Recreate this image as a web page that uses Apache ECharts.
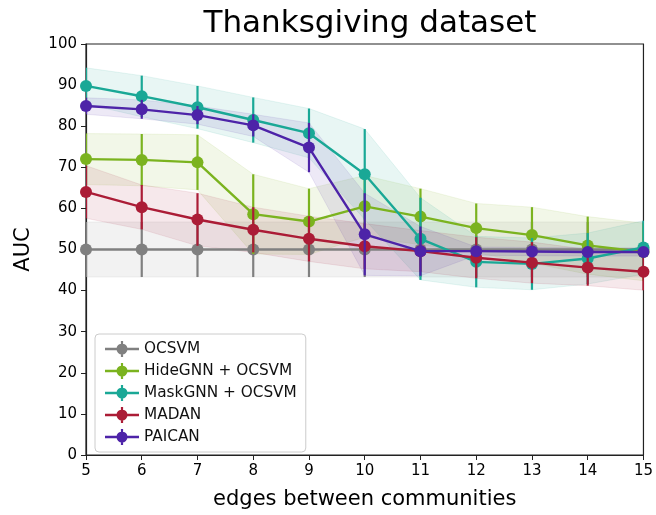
<!DOCTYPE html>
<html>
<head>
<meta charset="utf-8">
<script src="https://cdn.jsdelivr.net/npm/echarts@6/dist/echarts.min.js"></script>
<style>
html,body{margin:0;padding:0;background:#fff;}
#chart{width:656px;height:515px;}
</style>
</head>
<body>
<div id="chart"></div>
<script>
// ---- data ----
const xValues = [5, 6, 7, 8, 9, 10, 11, 12, 13, 14, 15];
const yTicks = [0, 10, 20, 30, 40, 50, 60, 70, 80, 90, 100];
const seriesNames = ['OCSVM', 'HideGNN + OCSVM', 'MaskGNN + OCSVM', 'MADAN', 'PAICAN'];

const ocsvmMean   = [50, 50, 50, 50, 50, 50, 50, 50, 50, 50, 50];
const ocsvmStd    = [6.7, 6.7, 6.7, 6.7, 6.7, 6.7, 6.7, 6.7, 6.7, 6.7, 6.7];

const hideMean    = [72.0, 71.8, 71.2, 58.6, 56.8, 60.5, 58.0, 55.2, 53.5, 51.0, 49.4];
const hideStd     = [6.2, 6.3, 6.7, 9.7, 8.0, 7.5, 6.8, 6.0, 6.8, 7.0, 7.0];

const maskMean    = [89.8, 87.3, 84.6, 81.5, 78.3, 68.3, 52.6, 47.0, 46.5, 47.8, 50.5];
const maskStd     = [4.4, 5.0, 5.2, 5.5, 6.0, 11.0, 10.0, 6.2, 6.3, 6.2, 6.5];

const madanMean   = [64.0, 60.3, 57.3, 54.8, 52.6, 50.8, 49.6, 48.0, 46.8, 45.6, 44.6];
const madanStd    = [6.4, 5.4, 6.4, 5.5, 5.5, 5.5, 5.0, 5.0, 5.0, 4.4, 4.5];

const paicanMean  = [84.9, 84.1, 82.7, 80.2, 74.8, 53.7, 49.6, 49.6, 49.5, 49.4, 49.4];
const paicanStd   = [2.0, 2.3, 2.2, 2.7, 6.0, 10.0, 6.0, 1.0, 1.0, 1.0, 1.0];

const colors = ['#808080', '#7bb31f', '#1aa896', '#ab1c36', '#4d23a8'];

const means = [ocsvmMean, hideMean, maskMean, madanMean, paicanMean];
const stds  = [ocsvmStd, hideStd, maskStd, madanStd, paicanStd];

// legend icon: line + marker + vertical error bar
const legendIcon = 'path://M0,6.8 L34,6.8 L34,9.2 L0,9.2 Z ' +
  'M15.9,0 L18.1,0 L18.1,16 L15.9,16 Z ' +
  'M22.5,8 A5.5,5.5 0 1,1 11.5,8 A5.5,5.5 0 1,1 22.5,8 Z';

// ---- build series ----
const series = [];
means.forEach((m, si) => {
  const s = stds[si];
  series.push({
    type: 'custom',
    name: seriesNames[si] + ' band',
    silent: true,
    z: 1,
    clip: true,
    data: [[0]],
    renderItem: function (params, api) {
      const pts = [];
      for (let i = 0; i < xValues.length; i++) pts.push(api.coord([xValues[i], m[i] + s[i]]));
      for (let i = xValues.length - 1; i >= 0; i--) pts.push(api.coord([xValues[i], m[i] - s[i]]));
      return {
        type: 'polygon',
        shape: { points: pts },
        style: { fill: colors[si], opacity: 0.1, stroke: colors[si], lineWidth: 1 }
      };
    }
  });
});
means.forEach((m, si) => {
  const s = stds[si];
  series.push({
    type: 'custom',
    name: seriesNames[si] + ' err',
    silent: true,
    z: 3 + si * 2,
    clip: true,
    data: xValues.map((x, i) => [x, m[i] - s[i], m[i] + s[i]]),
    renderItem: function (params, api) {
      const p1 = api.coord([api.value(0), api.value(1)]);
      const p2 = api.coord([api.value(0), api.value(2)]);
      return {
        type: 'line',
        shape: { x1: p1[0], y1: p1[1], x2: p2[0], y2: p2[1] },
        style: { stroke: colors[si], lineWidth: 2.2 }
      };
    }
  });
  series.push({
    type: 'line',
    name: seriesNames[si],
    z: 4 + si * 2,
    data: xValues.map((x, i) => [x, m[i]]),
    symbol: 'circle',
    symbolSize: 12,
    showAllSymbol: true,
    lineStyle: { color: colors[si], width: 2.4 },
    itemStyle: { color: colors[si] },
    emphasis: { disabled: true },
    animation: false
  });
});

const chart = echarts.init(document.getElementById('chart'), null, { renderer: 'canvas' });
const font = 'DejaVu Sans';
chart.setOption({
  animation: false,
  backgroundColor: '#fff',
  color: colors,
  title: {
    text: 'Thanksgiving dataset',
    left: 365,
    textAlign: 'center',
    top: 3,
    textStyle: { fontFamily: font, fontSize: 31, fontWeight: 'normal', color: '#000' }
  },
  grid: { left: 86, right: 11, top: 44, bottom: 55, show: true, borderColor: '#222', borderWidth: 1.2, backgroundColor: 'transparent' },
  legend: {
    data: seriesNames.map(n => ({ name: n, icon: legendIcon })),
    orient: 'vertical',
    left: 95,
    top: 334,
    padding: [7, 9, 7, 10],
    itemGap: 6,
    itemWidth: 34,
    itemHeight: 16,
    backgroundColor: 'rgba(255,255,255,0.8)',
    borderColor: '#cccccc',
    borderWidth: 1,
    borderRadius: 4,
    textStyle: { fontFamily: font, fontSize: 15.3, color: '#111' }
  },
  xAxis: {
    type: 'value',
    min: 5,
    max: 15,
    interval: 1,
    name: 'edges between communities',
    nameLocation: 'middle',
    nameGap: 34,
    nameTextStyle: { fontFamily: font, fontSize: 21, color: '#000' },
    axisLine: { show: true, onZero: false, lineStyle: { color: '#222', width: 1.2 } },
    axisTick: { show: true, length: 5, lineStyle: { color: '#222' } },
    axisLabel: { fontFamily: font, fontSize: 15, color: '#000', margin: 9 },
    splitLine: { show: false }
  },
  yAxis: {
    type: 'value',
    min: 0,
    max: 100,
    interval: 10,
    name: 'AUC',
    nameLocation: 'middle',
    nameGap: 52,
    nameTextStyle: { fontFamily: font, fontSize: 21, color: '#000' },
    axisLine: { show: true, lineStyle: { color: '#222', width: 1.2 } },
    axisTick: { show: true, length: 5, lineStyle: { color: '#222' } },
    axisLabel: { fontFamily: font, fontSize: 15, color: '#000', margin: 9 },
    splitLine: { show: false }
  },
  series: series
});
</script>
</body>
</html>
